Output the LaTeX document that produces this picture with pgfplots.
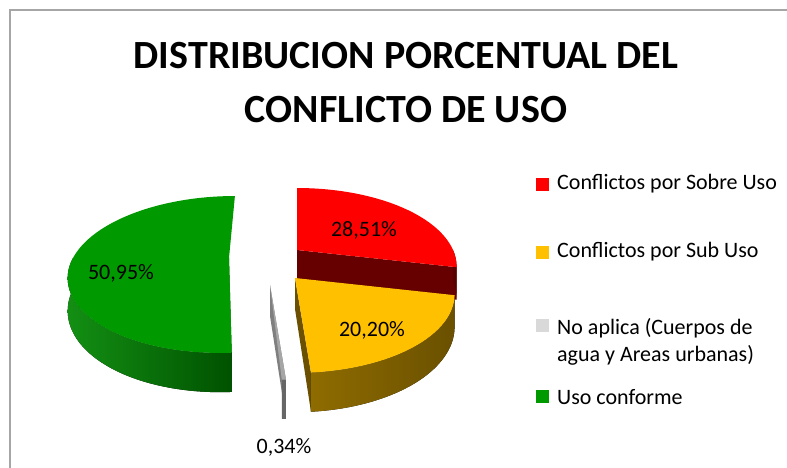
\documentclass[border=0pt]{standalone}
\usepackage{pgfplots}
\pgfplotsset{compat=1.18}
\usepgfplotslibrary{fillbetween}
\usepackage{fontspec}
\setmainfont{Carlito}
\definecolor{cred}{HTML}{FF0000}
\definecolor{credside}{HTML}{660000}
\definecolor{cyel}{HTML}{FFC000}
\definecolor{cyelA}{HTML}{8F6C00}
\definecolor{cyelB}{HTML}{6A5000}
\definecolor{cgreen}{HTML}{009900}
\definecolor{cgreenA}{HTML}{138F13}
\definecolor{cgreenB}{HTML}{005200}
\definecolor{cgray}{HTML}{A6A6A6}
\definecolor{cgrayside}{HTML}{7F7F7F}
\definecolor{clgray}{HTML}{D9D9D9}
\definecolor{cframe}{HTML}{A6A6A6}
% data (percent)
\def\vSobre{28.51}
\def\vSub{20.20}
\def\vNo{0.34}
\def\vConf{50.95}
\pgfmathsetmacro\aA{3.6*\vSobre}
\pgfmathsetmacro\aB{\aA+3.6*\vSub}
\pgfmathsetmacro\aC{\aB+3.6*\vNo}
\pgfmathsetmacro\aD{\aC+3.6*\vConf}
\begin{document}
\begin{tikzpicture}
\begin{axis}[name=ax, scale only axis, width=787pt, height=467pt,
  xmin=0, xmax=787, ymin=0, ymax=467, y dir=reverse,
  hide axis, clip=false,
  declare function={
    PX(\ua,\ub,\uc,\ud)=\ua+(156*\uc*sin(\ud)+\ub)/(1+0.21*\uc*cos(\ud))-\ub;
    PY(\ua,\uc,\ud,\ue)=\ua+(-75*\uc*cos(\ud)+\ue)/(1+0.21*\uc*cos(\ud));
  }]
% frame
\addplot[draw=cframe, line width=2pt, mark=none] coordinates {(10,470) (10,10) (790,10)};

% ---------- red slice ----------
\addplot[draw=none, name path=rc1, domain=0:1, samples=2] ({PX(297,0,x,\aA)},{PY(250,x,\aA,0)});
\addplot[draw=none, name path=rc2, domain=0:1, samples=2] ({PX(297,0,x,\aA)},{PY(250,x,\aA,31)});
\addplot[fill=credside, draw=none] fill between[of=rc1 and rc2];
\addplot[draw=none, name path=ro1, domain=90:\aA, samples=12] ({PX(297,0,1,x)},{PY(250,1,x,0)});
\addplot[draw=none, name path=ro2, domain=90:\aA, samples=12] ({PX(297,0,1,x)},{PY(250,1,x,31)});
\addplot[fill=credside!85!black, draw=none] fill between[of=ro1 and ro2];
\addplot[fill=cred, draw=none, domain=0:\aA, samples=60] ({PX(297,0,1,x)},{PY(250,1,x,0)}) -- (axis cs:297,250) -- cycle;

% ---------- green slice ----------
\addplot[draw=none, name path=gc1, domain=0:1, samples=2] ({PX(229,-34,x,\aC)},{PY(258,x,\aC,0)});
\addplot[draw=none, name path=gc2, domain=0:1, samples=2] ({PX(229,-34,x,\aC)},{PY(258,x,\aC,31)});
\addplot[fill=cgreenB, draw=none] fill between[of=gc1 and gc2];
\addplot[draw=none, name path=go1, domain=\aC:270, samples=60] ({PX(229,-34,1,x)},{PY(258,1,x,0)});
\addplot[draw=none, name path=go2, domain=\aC:270, samples=60] ({PX(229,-34,1,x)},{PY(258,1,x,31)});
\addplot[left color=cgreenA, right color=cgreenB, draw=none] fill between[of=go1 and go2];
\addplot[fill=cgreen, draw=none, domain=\aC:\aD, samples=90] ({PX(229,-34,1,x)},{PY(258,1,x,0)}) -- (axis cs:229,258) -- cycle;

% ---------- gray slice ----------
\addplot[draw=none, name path=nc1, domain=0:1, samples=2] ({PX(270,0,x,\aB)},{PY(285,x,\aB,0)});
\addplot[draw=none, name path=nc2, domain=0:1, samples=2] ({PX(270,0,x,\aB)},{PY(285,x,\aB,31)});
\addplot[fill=cgrayside, draw=none] fill between[of=nc1 and nc2];
\addplot[draw=none, name path=no1, domain=\aB:\aC, samples=4] ({PX(270,0,1,x)},{PY(285,1,x,0)});
\addplot[draw=none, name path=no2, domain=\aB:\aC, samples=4] ({PX(270,0,1,x)},{PY(285,1,x,31)});
\addplot[fill=cgrayside!80!black, draw=none] fill between[of=no1 and no2];
\addplot[fill=cgray, draw=none, domain=\aB:\aC, samples=4] ({PX(270,0,1,x)},{PY(285,1,x,0)}) -- (axis cs:270,285) -- cycle;

% ---------- yellow slice ----------
\addplot[draw=none, name path=yc1, domain=0:1, samples=2] ({PX(295,0,x,\aB)},{PY(278,x,\aB,0)});
\addplot[draw=none, name path=yc2, domain=0:1, samples=2] ({PX(295,0,x,\aB)},{PY(278,x,\aB,31)});
\addplot[fill=cyelB, draw=none] fill between[of=yc1 and yc2];
\addplot[draw=none, name path=yo1, domain=\aA:\aB, samples=50] ({PX(295,0,1,x)},{PY(278,1,x,0)});
\addplot[draw=none, name path=yo2, domain=\aA:\aB, samples=50] ({PX(295,0,1,x)},{PY(278,1,x,31)});
\addplot[left color=cyelA, right color=cyelB, draw=none] fill between[of=yo1 and yo2];
\addplot[fill=cyel, draw=none, domain=\aA:\aB, samples=60] ({PX(295,0,1,x)},{PY(278,1,x,0)}) -- (axis cs:295,278) -- cycle;

% ---------- data labels ----------
\node[font=\fontsize{22}{26}\selectfont] at (axis cs:364,230) {28,51\%};
\node[font=\fontsize{22}{26}\selectfont] at (axis cs:372,330) {20,20\%};
\node[font=\fontsize{22}{26}\selectfont] at (axis cs:121,273) {50,95\%};
\node[font=\fontsize{22}{26}\selectfont] at (axis cs:284,447) {0,34\%};

% ---------- title ----------
\node[font=\fontsize{40}{54}\selectfont\bfseries, align=center] at (axis cs:406,83) {DISTRIBUCION PORCENTUAL DEL\\CONFLICTO DE USO};

% ---------- legend ----------
\node[fill=cred, minimum size=13pt, inner sep=0pt] at (axis cs:542.5,184) {};
\node[fill=cyel, minimum size=13pt, inner sep=0pt] at (axis cs:542.5,252) {};
\node[fill=clgray, minimum size=13pt, inner sep=0pt] at (axis cs:542.5,325) {};
\node[fill=cgreen, minimum size=13pt, inner sep=0pt] at (axis cs:542.5,396) {};
\node[anchor=west, inner sep=0pt, font=\fontsize{22}{27}\selectfont] at (axis cs:557,184) {Conflictos por Sobre Uso};
\node[anchor=west, inner sep=0pt, font=\fontsize{22}{27}\selectfont] at (axis cs:557,252) {Conflictos por Sub Uso};
\node[anchor=west, inner sep=0pt, align=left, font=\fontsize{22}{27}\selectfont] at (axis cs:557,341.5) {No aplica (Cuerpos de\\agua y Areas urbanas)};
\node[anchor=west, inner sep=0pt, font=\fontsize{22}{27}\selectfont] at (axis cs:557,397) {Uso conforme};
\end{axis}
\pgfresetboundingbox
\path[use as bounding box] (ax.south west) rectangle (ax.north east);
\end{tikzpicture}
\end{document}
